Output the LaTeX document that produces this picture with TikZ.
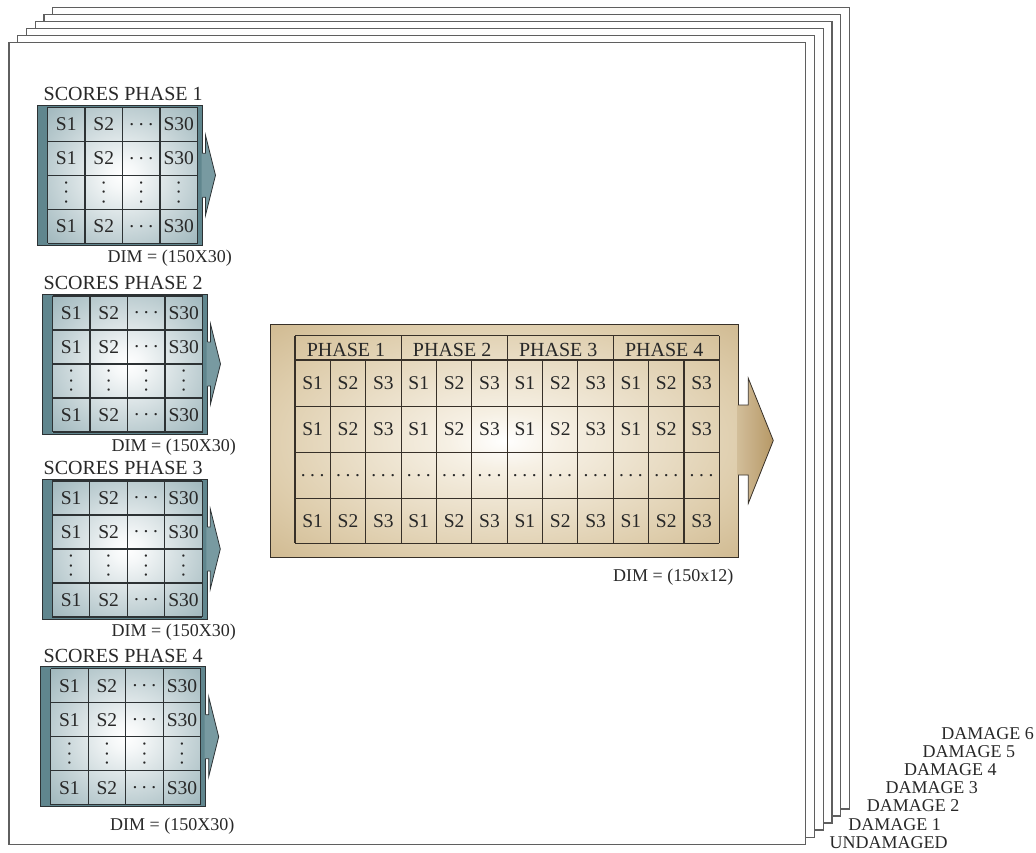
\documentclass[tikz,border=0pt]{standalone}
\usepackage{fontspec}
\setmainfont{Liberation Serif}
\usetikzlibrary{calc}
\definecolor{framegray}{RGB}{95,95,95}
\definecolor{tealdark}{RGB}{96,134,142}
\definecolor{tealmid}{RGB}{108,143,151}
\definecolor{tealedge}{RGB}{134,164,171}
\definecolor{tealarrow}{RGB}{120,154,161}
\definecolor{gridline}{RGB}{45,50,52}
\definecolor{tanlight}{RGB}{246,240,228}
\definecolor{tanmid}{RGB}{222,205,172}
\definecolor{tanedge}{RGB}{195,168,120}
\definecolor{tandark}{RGB}{182,152,102}
\definecolor{browngrid}{RGB}{55,48,40}
\definecolor{txt}{RGB}{40,40,40}
\pgfdeclareradialshading{tealglow}{\pgfpoint{0bp}{0bp}}{color(0bp)=(white); color(5bp)=(white!92!tealedge); color(25bp)=(tealedge!55!white); color(45bp)=(tealedge); color(60bp)=(tealmid)}
\pgfdeclareradialshading{brownglow}{\pgfpoint{0bp}{0bp}}{color(0bp)=(white); color(6bp)=(tanlight); color(26bp)=(tanmid); color(45bp)=(tanedge); color(60bp)=(tandark)}
\newcommand\mydots{.\kern4.6pt.\kern4.6pt.}
\tikzset{
  frame/.style={draw=framegray, line width=1.4pt, fill=white},
  blueframe/.style={draw=gridline, line width=0.8pt, fill=tealdark},
  gridst/.style={draw=gridline, line width=1.1pt},
  browngridst/.style={draw=browngrid, line width=1.1pt},
  celltxt/.style={inner sep=0pt, text=txt, font=\fontsize{19.5}{21}\selectfont},
  lbltxt/.style={inner sep=0pt, anchor=base west, text=txt, font=\fontsize{20}{22}\selectfont},
  dimtxt/.style={inner sep=0pt, anchor=base west, text=txt, font=\fontsize{18}{20}\selectfont},
  dmgtxt/.style={inner sep=0pt, anchor=base west, text=txt, font=\fontsize{18}{20}\selectfont},
}
% #1 id, #2 xL, #3 yT, #4 phase, #5 dim x, #6 dim baseline
\newcommand\BlueBlock[6]{%
  \node[lbltxt] (#1-label) at (43.5,#3-4.5) {SCORES PHASE #4};
  \begin{scope}[shift={(#2,#3)}]
    \draw[blueframe] (0,0) rectangle (165,140);
    \shade[shading=tealglow] (10,2) rectangle (160,138);
    \fill[tealarrow] (164,48) -- (168,48) -- (168,30) -- (178,70) -- (168,110) -- (168,92) -- (164,92) -- cycle;
    \draw[draw=gridline, line width=0.8pt, line join=miter] (165,48) -- (168,48) -- (168,30) -- (178,70) -- (168,110) -- (168,92) -- (165,92);
    \foreach \x in {10,47.5,85,122.5,160} {\draw[gridst] (\x,2) -- (\x,138);}
    \foreach \y in {2,36,70,104,138} {\draw[gridst] (10,\y) -- (160,\y);}
    \foreach \r/\ry in {1/19,2/53,4/121} {
      \foreach \c/\cx/\t in {1/28.75/S1,2/66.25/S2,3/103.75/{\mydots},4/141.25/S30} {
        \node[celltxt] (#1-\r-\c) at (\cx,\ry) {\t};
      }
    }
    \foreach \c/\cx in {1/28.75,2/66.25,3/103.75,4/141.25} {
      \node[celltxt, rotate=90] (#1-3-\c) at (\cx,87) {\mydots};
    }
  \end{scope}
  \node[dimtxt] (#1-dim) at (#5,#6) {DIM = (150X30)};
}
\begin{document}
\begin{tikzpicture}[x=1pt,y=-1pt]
\useasboundingbox (0,0) rectangle (1036,852);
% stacked frames
\foreach \k in {5,4,3,2,1,0} {
  \draw[frame] ({9+8.75*\k},{42.7-7.07*\k}) rectangle ++(796.7,801.6);
}
% damage labels
\node[dmgtxt] (undamaged) at (829.5,848.3) {UNDAMAGED};
\foreach \k in {1,...,6} {
  \node[dmgtxt] (damage\k) at ({829.5+18.6*\k},{848.3-18.17*\k}) {DAMAGE \k};
}
% blue blocks
\BlueBlock{b1}{37.5}{105.3}{1}{107.5}{262}
\BlueBlock{b2}{42.5}{294}{2}{111.5}{451.7}
\BlueBlock{b3}{42.3}{479}{3}{111.5}{636.7}
\BlueBlock{b4}{40.7}{666.7}{4}{110}{830}
% brown block
\shade[shading=brownglow] (270.7,324) rectangle (738,557);
\draw[draw=browngrid, line width=0.8pt] (270.7,324) rectangle (738,557);
\shade[left color=tanedge!75!white, right color=tandark] (737,405) -- (748.3,405) -- (748.3,378.3) -- (773.3,440.5) -- (748.3,503.3) -- (748.3,475) -- (737,475) -- cycle;
\draw[draw=browngrid, line width=0.8pt, line join=miter] (738,405) -- (748.3,405) -- (748.3,378.3) -- (773.3,440.5) -- (748.3,503.3) -- (748.3,475) -- (738,475);
\foreach \y in {335.7,360,406.7,452.3,498.3,543.3} {\draw[browngridst] (295,\y) -- (719.3,\y);}
\foreach \i in {0,3,6,9,12} {\draw[browngridst] ({295+35.36*\i},335.7) -- ({295+35.36*\i},543.3);}
\foreach \i in {1,2,4,5,7,8,10,11} {\draw[browngridst] ({295+35.36*\i},360) -- ({295+35.36*\i},543.3);}
\foreach \k in {1,...,4} {
  \node[celltxt, font=\fontsize{20}{22}\selectfont, anchor=base] (ph\k) at ({295+106.08*(\k-0.5)-2},356.5) {PHASE \k};
}
\foreach \r/\ry in {1/383.3,2/429.5,4/520.8} {
  \foreach \j in {0,...,11} {
    \pgfmathtruncatemacro\s{mod(\j,3)+1}
    \node[celltxt] (br-\r-\j) at ({295+35.36*(\j+0.5)},\ry) {S\s};
  }
}
\foreach \j in {0,...,11} {
  \node[celltxt] (br-3-\j) at ({295+35.36*(\j+0.5)},475.3) {\mydots};
}
\node[dimtxt] (browndim) at (613,581.7) {DIM = (150x12)};
\end{tikzpicture}
\end{document}
